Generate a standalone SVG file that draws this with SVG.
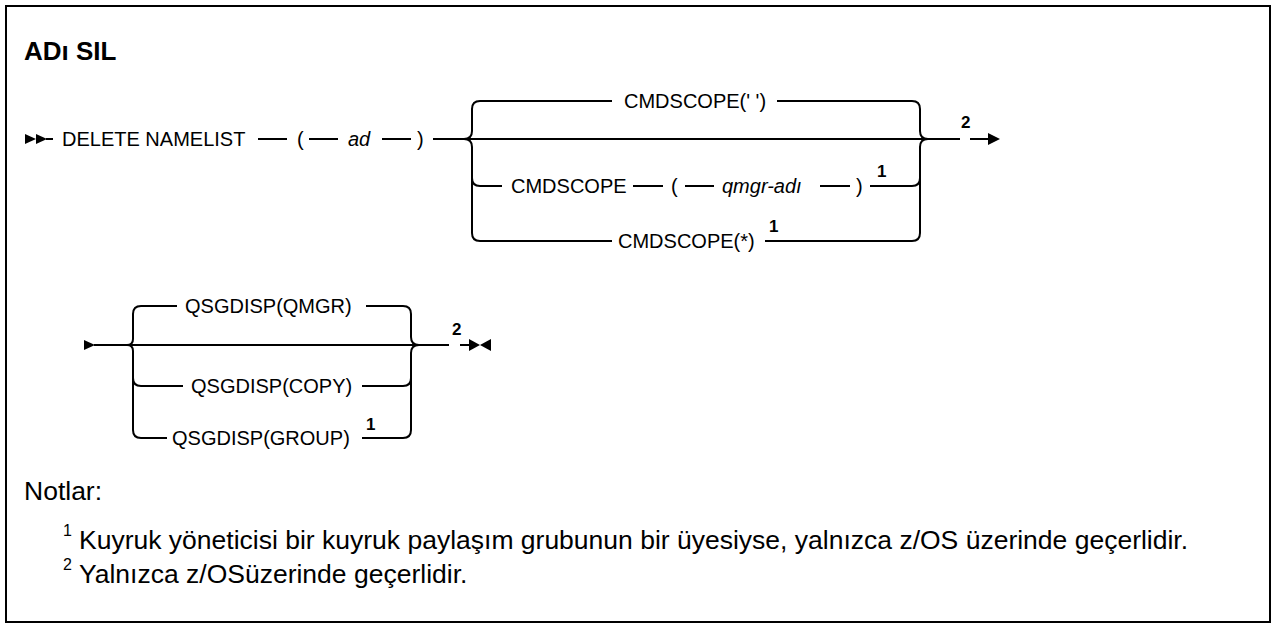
<svg xmlns="http://www.w3.org/2000/svg" width="1276" height="625" viewBox="0 0 1276 625">
  <style>
    .t { font-family: "Liberation Sans", Arial, sans-serif; font-size: 20px; fill: #000; }
    .i { font-style: italic; }
    .sup { font-family: "Liberation Sans", Arial, sans-serif; font-size: 17px; font-weight: bold; fill: #000; }
    .title { font-family: "Liberation Sans", Arial, sans-serif; font-size: 26px; font-weight: bold; fill: #000; }
    .note { font-family: "Liberation Sans", Arial, sans-serif; font-size: 26.5px; fill: #000; }
    .nsup { font-family: "Liberation Sans", Arial, sans-serif; font-size: 16px; fill: #000; }
    .ln { fill: none; stroke: #000; stroke-width: 2; }
    .ah { fill: #000; stroke: none; }
  </style>
  <rect x="6" y="6" width="1264" height="616" fill="#fff" stroke="#000" stroke-width="2"/>
  <text class="title" x="24" y="60">ADı SIL</text>

  <g id="connectors">
    <!-- top row start -->
    <polygon class="ah" points="25,134 36,139 25,144"/>
    <polygon class="ah" points="36,134 47,139 36,144"/>
    <path class="ln" d="M46,139 H53"/>
    <path class="ln" d="M258,139 H287 M309,139 H338 M382,139 H411 M433,139 H960 M970,139 H990"/>
    <polygon class="ah" points="988,133 1000,139 988,145"/>
    <!-- left brace top -->
    <path class="ln" d="M464,139 Q472,139 472,131 V109 Q472,101 480,101 H612"/>
    <path class="ln" d="M464,139 Q472,139 472,147 V233 Q472,241 480,241 H612"/>
    <path class="ln" d="M472,178 Q472,186 480,186 H502"/>
    <path class="ln" d="M633,186 H663 M685,186 H714 M820,186 H850"/>
    <!-- right brace top -->
    <path class="ln" d="M777,101 H912 Q920,101 920,109 V131 Q920,139 928,139"/>
    <path class="ln" d="M765,241 H912 Q920,241 920,233 V147 Q920,139 928,139"/>
    <path class="ln" d="M870,186 H912 Q920,186 920,178"/>

    <!-- bottom row -->
    <polygon class="ah" points="84,340 95,345 84,350"/>
    <path class="ln" d="M94,345 H449 M460,345 H470"/>
    <polygon class="ah" points="469,339 480,345 469,351"/>
    <polygon class="ah" points="491,339 480,345 491,351"/>
    <path class="ln" d="M127,345 Q133,345 133,339 V314 Q133,306 141,306 H177"/>
    <path class="ln" d="M127,345 Q133,345 133,351 V430 Q133,438 141,438 H167"/>
    <path class="ln" d="M133,378 Q133,386 141,386 H183"/>
    <path class="ln" d="M366,306 H403 Q411,306 411,314 V337 Q411,345 419,345"/>
    <path class="ln" d="M362,438 H403 Q411,438 411,430 V353 Q411,345 419,345"/>
    <path class="ln" d="M362,386 H403 Q411,386 411,378"/>
  </g>

  <g id="node-delete-namelist"><text class="t" x="62" y="146">DELETE NAMELIST</text></g>
  <g id="node-ad">
    <text class="t" x="297" y="146">(</text>
    <text class="t i" x="348" y="146">ad</text>
    <text class="t" x="417" y="146">)</text>
  </g>
  <g id="node-cmdscope-blank"><text class="t" x="624" y="108">CMDSCOPE(' ')</text></g>
  <g id="node-cmdscope-qmgr">
    <text class="t" x="511" y="193">CMDSCOPE</text>
    <text class="t" x="671" y="193">(</text>
    <text class="t i" x="722" y="193">qmgr-adı</text>
    <text class="t" x="856" y="193">)</text>
    <text class="sup" x="877" y="177">1</text>
  </g>
  <g id="node-cmdscope-star">
    <text class="t" x="618" y="248">CMDSCOPE(*)</text>
    <text class="sup" x="769" y="232">1</text>
  </g>
  <g id="note-ref-top"><text class="sup" x="961" y="128">2</text></g>

  <g id="node-qsgdisp-qmgr"><text class="t" x="185" y="313">QSGDISP(QMGR)</text></g>
  <g id="node-qsgdisp-copy"><text class="t" x="191" y="393">QSGDISP(COPY)</text></g>
  <g id="node-qsgdisp-group">
    <text class="t" x="172" y="445">QSGDISP(GROUP)</text>
    <text class="sup" x="366" y="430">1</text>
  </g>
  <g id="note-ref-bottom"><text class="sup" x="452" y="335">2</text></g>

  <g id="notes">
    <text class="note" x="24" y="500">Notlar:</text>
    <text class="nsup" x="63" y="536">1</text>
    <text class="note" x="79" y="549">Kuyruk yöneticisi bir kuyruk paylaşım grubunun bir üyesiyse, yalnızca z/OS üzerinde geçerlidir.</text>
    <text class="nsup" x="63" y="570">2</text>
    <text class="note" x="79" y="583">Yalnızca z/OSüzerinde geçerlidir.</text>
  </g>
</svg>
